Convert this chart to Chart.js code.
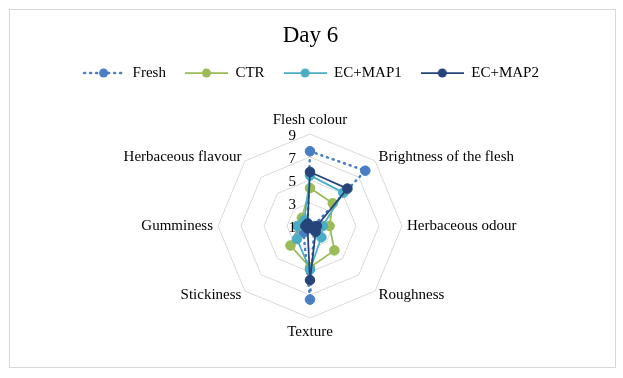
<!DOCTYPE html>
<html>
<head>
<meta charset="utf-8">
<script src="https://cdn.jsdelivr.net/npm/chart.js@4.4.1/dist/chart.umd.min.js"></script>
<style>
  html, body { margin: 0; padding: 0; background: #fff; }
  #marco { position: absolute; left: 9px; top: 9px; width: 605px; height: 357px; border: 1px solid #d9d9d9; }
  #radar { position: absolute; left: 0; top: 0; }
</style>
</head>
<body>
<div id="marco"></div>
<canvas id="radar" width="623" height="378"></canvas>
<script>
const atributos = ['Flesh colour', 'Brightness of the flesh', 'Herbaceous odour', 'Roughness',
    'Texture', 'Stickiness', 'Gumminess', 'Herbaceous flavour'];
const datosFresh = [7.5, 7.8, 1.3, 1.5, 7.4, 1.8, 1.4, 1.3];
const datosCTR = [4.3, 3.8, 2.7, 4.0, 4.6, 3.4, 2.0, 2.0];
const datosMAP1 = [5.4, 5.1, 2.1, 2.4, 4.8, 2.6, 2.1, 1.7];
const datosMAP2 = [5.7, 5.6, 1.6, 1.7, 5.7, 1.3, 1.4, 1.3];
const escala = [1, 3, 5, 7, 9];

Chart.defaults.font.family = '"Liberation Serif", "Times New Roman", serif';
Chart.defaults.color = '#000';

// icono de leyenda: linea con marcador, como en Excel
function iconoLeyenda(color, punteada) {
    const c = document.createElement('canvas');
    c.width = 43;
    c.height = 12;
    const g = c.getContext('2d');
    g.strokeStyle = color;
    g.fillStyle = color;
    g.lineWidth = punteada ? 2.5 : 1.75;
    g.lineCap = punteada ? 'round' : 'butt';
    if (punteada) g.setLineDash([1, 5]);
    g.beginPath();
    g.moveTo(punteada ? 2 : 0, 6);
    g.lineTo(43, 6);
    g.stroke();
    g.setLineDash([]);
    g.beginPath();
    g.arc(21.5, 6, 4.5, 0, Math.PI * 2);
    g.fill();
    return c;
}

function serie(label, data, color, orden, punteada) {
    return {
        label: label,
        data: data,
        borderColor: color,
        backgroundColor: color,
        pointBackgroundColor: color,
        pointBorderColor: color,
        pointBorderWidth: 1,
        pointRadius: 4.8,
        borderWidth: punteada ? 2.5 : 1.75,
        borderDash: punteada ? [1, 5] : [],
        borderCapStyle: punteada ? 'round' : 'butt',
        fill: false,
        order: orden
    };
}

const series = [
    serie('Fresh', datosFresh, '#4A7EC2', 4, true),
    serie('CTR', datosCTR, '#9BBB59', 3, false),
    serie('EC+MAP1', datosMAP1, '#4BACC6', 2, false),
    serie('EC+MAP2', datosMAP2, '#264478', 1, false)
];
const iconos = series.map(s => iconoLeyenda(s.borderColor, s.borderDash.length > 0));

const ajustesRadar = {
    id: 'ajustesRadar',
    afterLayout(chart) {
        // etiquetas diagonales centradas en vertical
        const r = chart.scales.r;
        const items = r._pointLabelItems || [];
        const alto = 18;
        items.forEach((item, i) => {
            const c = Math.cos(r.getIndexAngle(i));
            if (Math.abs(c) > 0.1 && Math.abs(c) < 0.9) {
                const d = c > 0 ? alto / 2 : -alto / 2;
                item.y += d;
                item.top += d;
                item.bottom += d;
            }
        });
    },
    afterDatasetsDraw(chart) {
        // numeros del eje a la izquierda de la linea vertical
        const r = chart.scales.r;
        const ctx = chart.ctx;
        ctx.save();
        ctx.font = '15px "Liberation Serif"';
        ctx.fillStyle = '#000';
        ctx.textAlign = 'right';
        ctx.textBaseline = 'middle';
        r.ticks.forEach(t => {
            const y = r.yCenter - r.getDistanceFromCenterForValue(t.value) + 2;
            ctx.fillText(t.label !== undefined ? t.label : String(t.value), r.xCenter - 14, y);
        });
        ctx.restore();
    }
};

const ctx = document.getElementById('radar').getContext('2d');

const miGrafico = new Chart(ctx, {
    type: 'radar',
    data: {
        labels: atributos,
        datasets: series
    },
    plugins: [ajustesRadar],
    options: {
        responsive: false,
        animation: false,
        layout: {
            padding: { top: 0, bottom: 37, left: 0, right: 2 }
        },
        scales: {
            r: {
                min: escala[0],
                max: escala[escala.length - 1],
                ticks: { stepSize: escala[1] - escala[0], display: false },
                grid: { color: '#D9D9D9', lineWidth: 1, circular: false },
                angleLines: { display: false },
                pointLabels: {
                    padding: 5,
                    color: '#000',
                    font: { size: 15 }
                }
            }
        },
        plugins: {
            title: {
                display: true,
                text: 'Day 6',
                color: '#000',
                font: { size: 23, weight: 'normal', lineHeight: 0.8 },
                padding: { top: 27, bottom: 1.1 }
            },
            subtitle: { // espacio entre leyenda y grafico
                display: true,
                text: '',
                weight: 500,
                font: { size: 10, lineHeight: 1 },
                padding: { top: 10.5, bottom: 0 }
            },
            legend: {
                position: 'top',
                labels: {
                    usePointStyle: true,
                    pointStyleWidth: 43,
                    padding: 19,
                    color: '#000',
                    font: { size: 15 },
                    generateLabels: (chart) => chart.data.datasets.map((ds, i) => ({
                        text: ds.label,
                        pointStyle: iconos[i],
                        fillStyle: ds.borderColor,
                        strokeStyle: ds.borderColor,
                        fontColor: '#000',
                        lineWidth: 0,
                        hidden: false,
                        datasetIndex: i
                    }))
                }
            },
            tooltip: { enabled: false }
        }
    }
});
</script>
</body>
</html>
